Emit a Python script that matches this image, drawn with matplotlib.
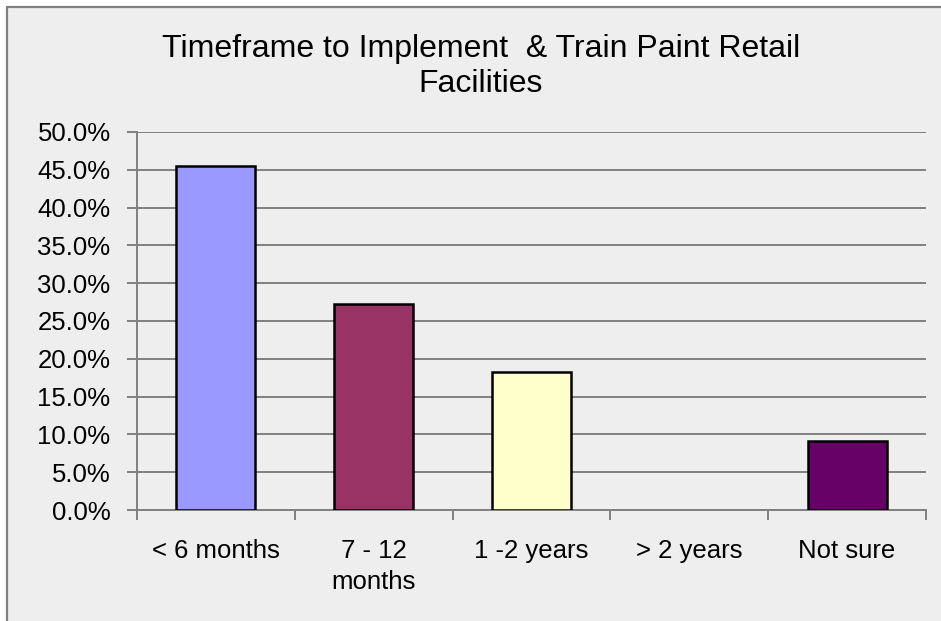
import matplotlib.pyplot as plt
from matplotlib.patches import Rectangle
from matplotlib.ticker import PercentFormatter

# data
categories = ['< 6 months', '7 - 12\nmonths', '1 -2 years', '> 2 years', 'Not sure']
shares = [45.5, 27.3, 18.2, 0.0, 9.1]
bar_colors = ['#9999FF', '#993366', '#FFFFCC', '#FFFFFF', '#660066']
y_ticks = [0, 5, 10, 15, 20, 25, 30, 35, 40, 45, 50]
title_lines = ['Timeframe to Implement  & Train Paint Retail', 'Facilities']

plt.rcParams['font.family'] = ['Liberation Sans', 'DejaVu Sans']

W, H = 941, 621
fig = plt.figure(figsize=(W / 100, H / 100), dpi=100, facecolor='white')

# chart area box, runs off the right and bottom of the image
fig.patches.append(Rectangle((7 / W, -0.1), 1.2, 1.1 - 7 / H, transform=fig.transFigure,
                             facecolor='#EEEEEE', edgecolor='#808080', linewidth=1.6, zorder=-5))

ax = fig.add_axes([137 / W, 1 - 510 / H, (926 - 137) / W, (510 - 132) / H])
ax.set_facecolor('none')
ax.set_zorder(2)

x = list(range(len(categories)))
# an empty bar shows no outline in the original
edges = ['black' if v > 0 else 'none' for v in shares]
ax.bar(x, shares, width=0.5, color=bar_colors, edgecolor=edges, linewidth=1.8, zorder=3)

ax.set_xlim(-0.5, len(categories) - 0.5)
ax.set_ylim(0, 50)
ax.set_yticks(y_ticks)
ax.yaxis.set_major_formatter(PercentFormatter(decimals=1))
ax.yaxis.grid(True, color='#808080', linewidth=1.4, zorder=1)

# category boundaries get tick marks, names sit at the centres
ax.set_xticks([i - 0.5 for i in range(len(categories) + 1)])
ax.set_xticklabels([])
ax.set_xticks(x, minor=True)
ax.set_xticklabels(categories, minor=True, fontsize=18.5, linespacing=1.35)
ax.tick_params(axis='x', which='minor', length=0, pad=21)
ax.tick_params(axis='x', which='major', length=7, width=1.4, color='#808080', direction='out')
ax.tick_params(axis='y', length=7, width=1.4, color='#808080', labelsize=18.5, pad=12)

for side in ['top', 'right']:
    ax.spines[side].set_visible(False)
for side in ['left', 'bottom']:
    ax.spines[side].set_color('#808080')
    ax.spines[side].set_linewidth(1.4)

fig.text(481 / W, 1 - 57 / H, title_lines[0], ha='center', va='baseline', fontsize=23)
fig.text(481 / W, 1 - 92 / H, title_lines[1], ha='center', va='baseline', fontsize=23)

fig.savefig('out.png', dpi=100, facecolor=fig.get_facecolor())
